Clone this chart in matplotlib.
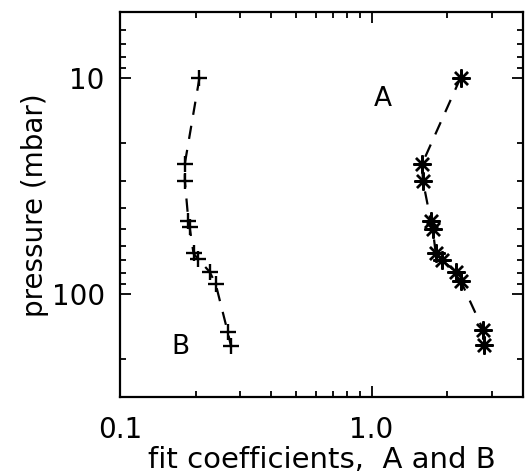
import matplotlib
matplotlib.use("Agg")
import matplotlib.pyplot as plt
from matplotlib.ticker import LogLocator, FixedLocator, NullFormatter

# pressure levels (mbar) and fit coefficients
pres_b = [10, 25, 30, 46, 49, 65, 69, 79, 90, 150, 174]
coef_b = [0.207, 0.181, 0.181, 0.187, 0.189, 0.196, 0.204, 0.227, 0.240, 0.268, 0.276]

pres_a = [10, 25, 30, 46, 50, 65, 70, 79, 87, 147, 173]
coef_a = [2.26, 1.59, 1.60, 1.72, 1.75, 1.80, 1.91, 2.16, 2.26, 2.78, 2.80]

x_ticks = [0.1, 1.0]
x_ticklabels = ["0.1", "1.0"]
y_ticks = [10, 100]
y_ticklabels = ["10", "100"]

plt.rcParams['font.family'] = ['DejaVu Sans']

fig = plt.figure(figsize=(5.25, 4.75), dpi=100)
ax = fig.add_axes([0.2286, 0.1642, 0.7676, 0.8095])

asterisk = (8, 2, 0)
ax.plot(coef_b, pres_b, color='black', lw=1.6, ls=(0, (6, 5)),
        marker='+', ms=12, mew=1.7)
ax.plot(coef_a, pres_a, color='black', lw=1.6, ls=(0, (6, 5)),
        marker=asterisk, ms=13, mew=1.7)

ax.set_xscale('log')
ax.set_yscale('log')
ax.set_xlim(0.1, 4.0)
ax.set_ylim(300, 5)

ax.xaxis.set_major_locator(FixedLocator(x_ticks))
ax.set_xticklabels(x_ticklabels)
ax.xaxis.set_minor_locator(LogLocator(base=10, subs=range(2, 10)))
ax.xaxis.set_minor_formatter(NullFormatter())
ax.yaxis.set_major_locator(FixedLocator(y_ticks))
ax.set_yticklabels(y_ticklabels)
ax.yaxis.set_minor_locator(LogLocator(base=10, subs=range(2, 10)))
ax.yaxis.set_minor_formatter(NullFormatter())

ax.tick_params(which='both', direction='in', top=True, right=True,
               labelsize=20, width=1.3)
ax.tick_params(which='major', length=8)
ax.tick_params(axis='x', which='major', pad=14)
ax.tick_params(axis='y', which='major', pad=11)
ax.tick_params(which='minor', length=4)
for s in ax.spines.values():
    s.set_linewidth(1.6)

ax.text(1.02, 13.5, "A", fontsize=19)
ax.text(0.16, 190, "B", fontsize=19)

ax.set_xlabel("fit coefficients,  A and B", fontsize=21, labelpad=1)
ax.set_ylabel("pressure (mbar)", fontsize=20, labelpad=2)

fig.savefig("out.png", dpi=100)
